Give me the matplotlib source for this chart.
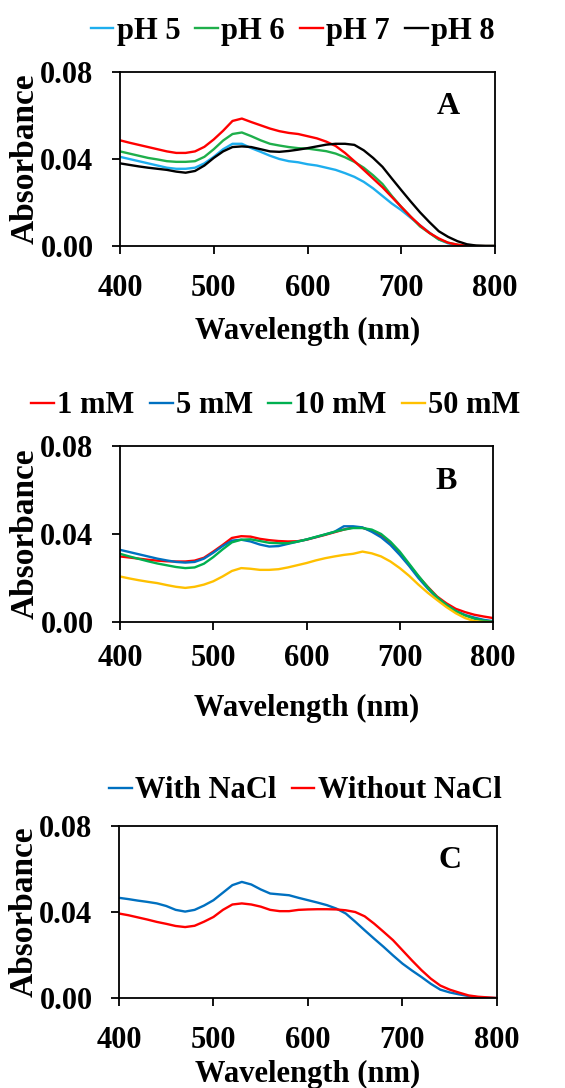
import numpy as np
from matplotlib import pyplot as plt

plt.rcParams['font.family'] = ['Liberation Serif', 'DejaVu Serif']
plt.rcParams['font.weight'] = 'bold'
plt.rcParams['axes.labelweight'] = 'bold'

wavelength = np.arange(400, 801, 10)

# panel A: pH
ph5 = [.041, .040, .039, .038, .037, .036, .0355, .0355, .036, .038, .041,
       .0445, .047, .047, .045, .0433, .0415, .040, .039, .0385, .0376,
       .037, .036, .035, .0335, .0318, .0295, .0265, .023, .0195, .0165,
       .013, .0095, .0062, .003, .0012, .0003, 0, 0, 0, 0]
ph6 = [.0435, .0425, .0415, .0405, .0398, .039, .0387, .0387, .039, .041, .0445,
       .0485, .0515, .0522, .0505, .0486, .047, .0462, .0455, .045, .0448,
       .0442, .0436, .0425, .0408, .0387, .036, .0325, .0285, .023, .018,
       .0135, .009, .006, .003, .0015, .0006, 0, 0, 0, 0]
ph7 = [.0486, .0475, .0465, .0455, .0445, .0435, .0428, .0428, .0435, .0456, .049,
       .053, .0575, .0586, .057, .0555, .054, .0528, .052, .0515, .0505,
       .0495, .048, .046, .0428, .039, .035, .031, .027, .0225, .018,
       .0135, .0095, .006, .0035, .0015, .0006, .0001, 0, 0, 0]
ph8 = [.038, .0373, .0366, .036, .0355, .035, .0342, .0337, .0345, .037, .0405,
       .0435, .0455, .0458, .0455, .0445, .0435, .0433, .0437, .0443, .045,
       .0458, .0466, .047, .047, .0465, .044, .0405, .0364, .031, .0257,
       .0205, .0155, .011, .0068, .0042, .0022, .0008, .0002, 0, 0]

# panel B: salt concentration
mm1 = [.0298, .0293, .0288, .0283, .0279, .0276, .0275, .0275, .0279, .0292, .032,
       .035, .0382, .039, .0388, .0378, .0372, .0368, .0366, .0367, .0374,
       .0385, .0396, .0408, .042, .043, .0428, .0415, .0394, .036, .031,
       .026, .0207, .016, .0116, .0085, .006, .0045, .0033, .0025, .0018]
mm5 = [.0328, .0318, .0308, .0298, .0288, .028, .0273, .027, .0273, .0288, .0315,
       .0345, .037, .0374, .0366, .0352, .0343, .0345, .0355, .0365, .0375,
       .0386, .0398, .041, .0435, .0435, .043, .041, .0385, .035, .0305,
       .0255, .020, .0152, .011, .0078, .005, .0032, .002, .001, .0004]
mm10 = [.031, .0298, .0287, .0276, .0266, .0258, .025, .0245, .0248, .0265, .0295,
        .033, .0362, .0374, .0376, .0368, .036, .0358, .0358, .0365, .0375,
        .0387, .0398, .041, .042, .0427, .0427, .042, .040, .0365, .032,
        .0265, .021, .0158, .0113, .0078, .005, .003, .0015, .0006, 0]
mm50 = [.0207, .0198, .019, .0183, .0177, .0168, .016, .0155, .016, .017, .0185,
        .0207, .0232, .0245, .0242, .0237, .0237, .024, .0248, .0258, .0268,
        .028, .029, .0298, .0305, .031, .032, .0312, .0298, .0275, .0245,
        .021, .017, .0133, .010, .0068, .004, .0018, .0004, 0, 0]

# panel C: NaCl
with_nacl = [.0466, .046, .0453, .0447, .044, .0428, .041, .0402, .041, .043, .0455,
             .049, .0525, .054, .0528, .0505, .0486, .0482, .0478, .0466, .0455,
             .0444, .0432, .0416, .0393, .0355, .0315, .0276, .0238, .0198, .016,
             .0128, .0098, .0066, .0039, .0026, .0017, .0009, .0003, .0001, 0]
without_nacl = [.0393, .0385, .0375, .0365, .0354, .0345, .0335, .033, .0336, .0355, .0377,
                .041, .0435, .044, .0435, .0425, .041, .0404, .0404, .041, .0412,
                .0413, .0413, .0412, .0408, .040, .038, .0346, .0308, .0269, .0222,
                .0175, .013, .009, .0058, .0039, .0025, .0012, .0006, .0003, 0]

# tag, series, names, colours, axes rect, legend centre, x tick pad, xlabel pad
panels = [
    ("A", [ph5, ph6, ph7, ph8], ["pH 5", "pH 6", "pH 7", "pH 8"],
     ["#1EAEEE", "#1FAF4B", "#FF0000", "#000000"],
     [0.2124, 0.7739, 0.6637, 0.1599], (0.518, 0.971), 14, 10),
    ("B", [mm1, mm5, mm10, mm50], ["1 mM", "5 mM", "10 mM", "50 mM"],
     ["#FF0000", "#0070C0", "#00B050", "#FFC000"],
     [0.2124, 0.4283, 0.6602, 0.1618], (0.488, 0.627), 10, 15),
    ("C", [with_nacl, without_nacl], ["With NaCl", "Without NaCl"],
     ["#0070C0", "#FF0000"],
     [0.2106, 0.0827, 0.6690, 0.1581], (0.540, 0.273), 14, 4),
]

fig = plt.figure(figsize=(5.65, 10.88), dpi=100)

for tag, series, names, colors, rect, leg_pos, xpad, lpad in panels:
    ax = fig.add_axes(rect)
    lines = []
    for ys, name, c in zip(series, names, colors):
        ln, = ax.plot(wavelength, ys, color=c, lw=1.7, label=name)
        lines.append(ln)
    ax.set_xlim(400, 800)
    ax.set_ylim(0, 0.08)
    ax.set_xticks([400, 500, 600, 700, 800])
    ax.set_yticks([0, 0.04, 0.08])
    ax.set_yticklabels(["0.00", "0.04", "0.08"])
    ax.tick_params(direction='out', length=6, width=1.3, labelsize=22)
    ax.tick_params(axis='x', pad=xpad)
    ax.tick_params(axis='y', pad=13)
    for s in ax.spines.values():
        s.set_linewidth(1.3)
    ax.set_xlabel("Wavelength (nm)", fontsize=22, labelpad=lpad)
    ax.set_ylabel("Absorbance", fontsize=24, labelpad=0)
    ax.text(0.875, 0.80, tag, transform=ax.transAxes, fontsize=23,
            ha='center', va='center')
    fig.legend(handles=lines, labels=names, loc='center',
               bbox_to_anchor=leg_pos, ncol=len(names),
               frameon=False, fontsize=22, handlelength=0.75,
               handletextpad=0.1, columnspacing=0.5,
               borderaxespad=0, borderpad=0)

plt.savefig("out.png", dpi=100)
